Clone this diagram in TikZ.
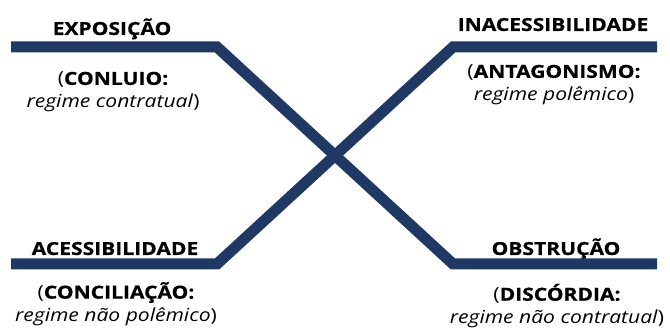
\documentclass[tikz,border=0pt]{standalone}
\usepackage{fontspec}
\setmainfont{Open Sans}[FakeStretch=1.17, BoldFeatures={FakeBold=0.6}]
\usepackage{xcolor}
\usetikzlibrary{positioning}

\definecolor{navy}{RGB}{31,56,100}

\begin{document}
\begin{tikzpicture}[x=1pt, y=1pt]
      \tikzstyle{bar} = [line width = 11pt, draw=navy, line join = miter]
      \tikzstyle{tnode} = [inner sep = 0pt, anchor=base, font=\fontsize{18}{23}\selectfont\bfseries]
      \tikzstyle{snode} = [inner sep = 0pt, align=center, font=\fontsize{18}{23}\selectfont]

      \useasboundingbox (0,0) rectangle (670,331);

      % bends of the two bars
      \coordinate (a0) at (11,284);
      \coordinate (a1) at (217,284);
      \coordinate (a2) at (453,67);
      \coordinate (a3) at (657,67);

      \coordinate (b0) at (11,67);
      \coordinate (b1) at (217,67);
      \coordinate (b2) at (453,284);
      \coordinate (b3) at (657,284);

      \node[tnode] (expo) at (112, 296) {EXPOSIÇÃO};
      \node[snode] (conluio) at (113, 239) {(\textbf{CONLUIO:}\\\textit{regime contratual})};

      \node[tnode] (inac) at (553, 300) {INACESSIBILIDADE};
      \node[snode] (antag) at (554, 246) {(\textbf{ANTAGONISMO:}\\\textit{regime polêmico})};

      \node[tnode] (acess) at (115, 76) {ACESSIBILIDADE};
      \node[snode] (concil) at (116, 27) {(\textbf{CONCILIAÇÃO:}\\\textit{regime não polêmico})};

      \node[tnode] (obstr) at (556, 76) {OBSTRUÇÃO};
      \node[snode] (discord) at (557, 25) {(\textbf{DISCÓRDIA:}\\\textit{regime não contratual})};

      % the crossing bars
      \draw[bar] (a0) -- (a1) -- (a2) -- (a3);
      \draw[bar] (b0) -- (b1) -- (b2) -- (b3);
\end{tikzpicture}
\end{document}
